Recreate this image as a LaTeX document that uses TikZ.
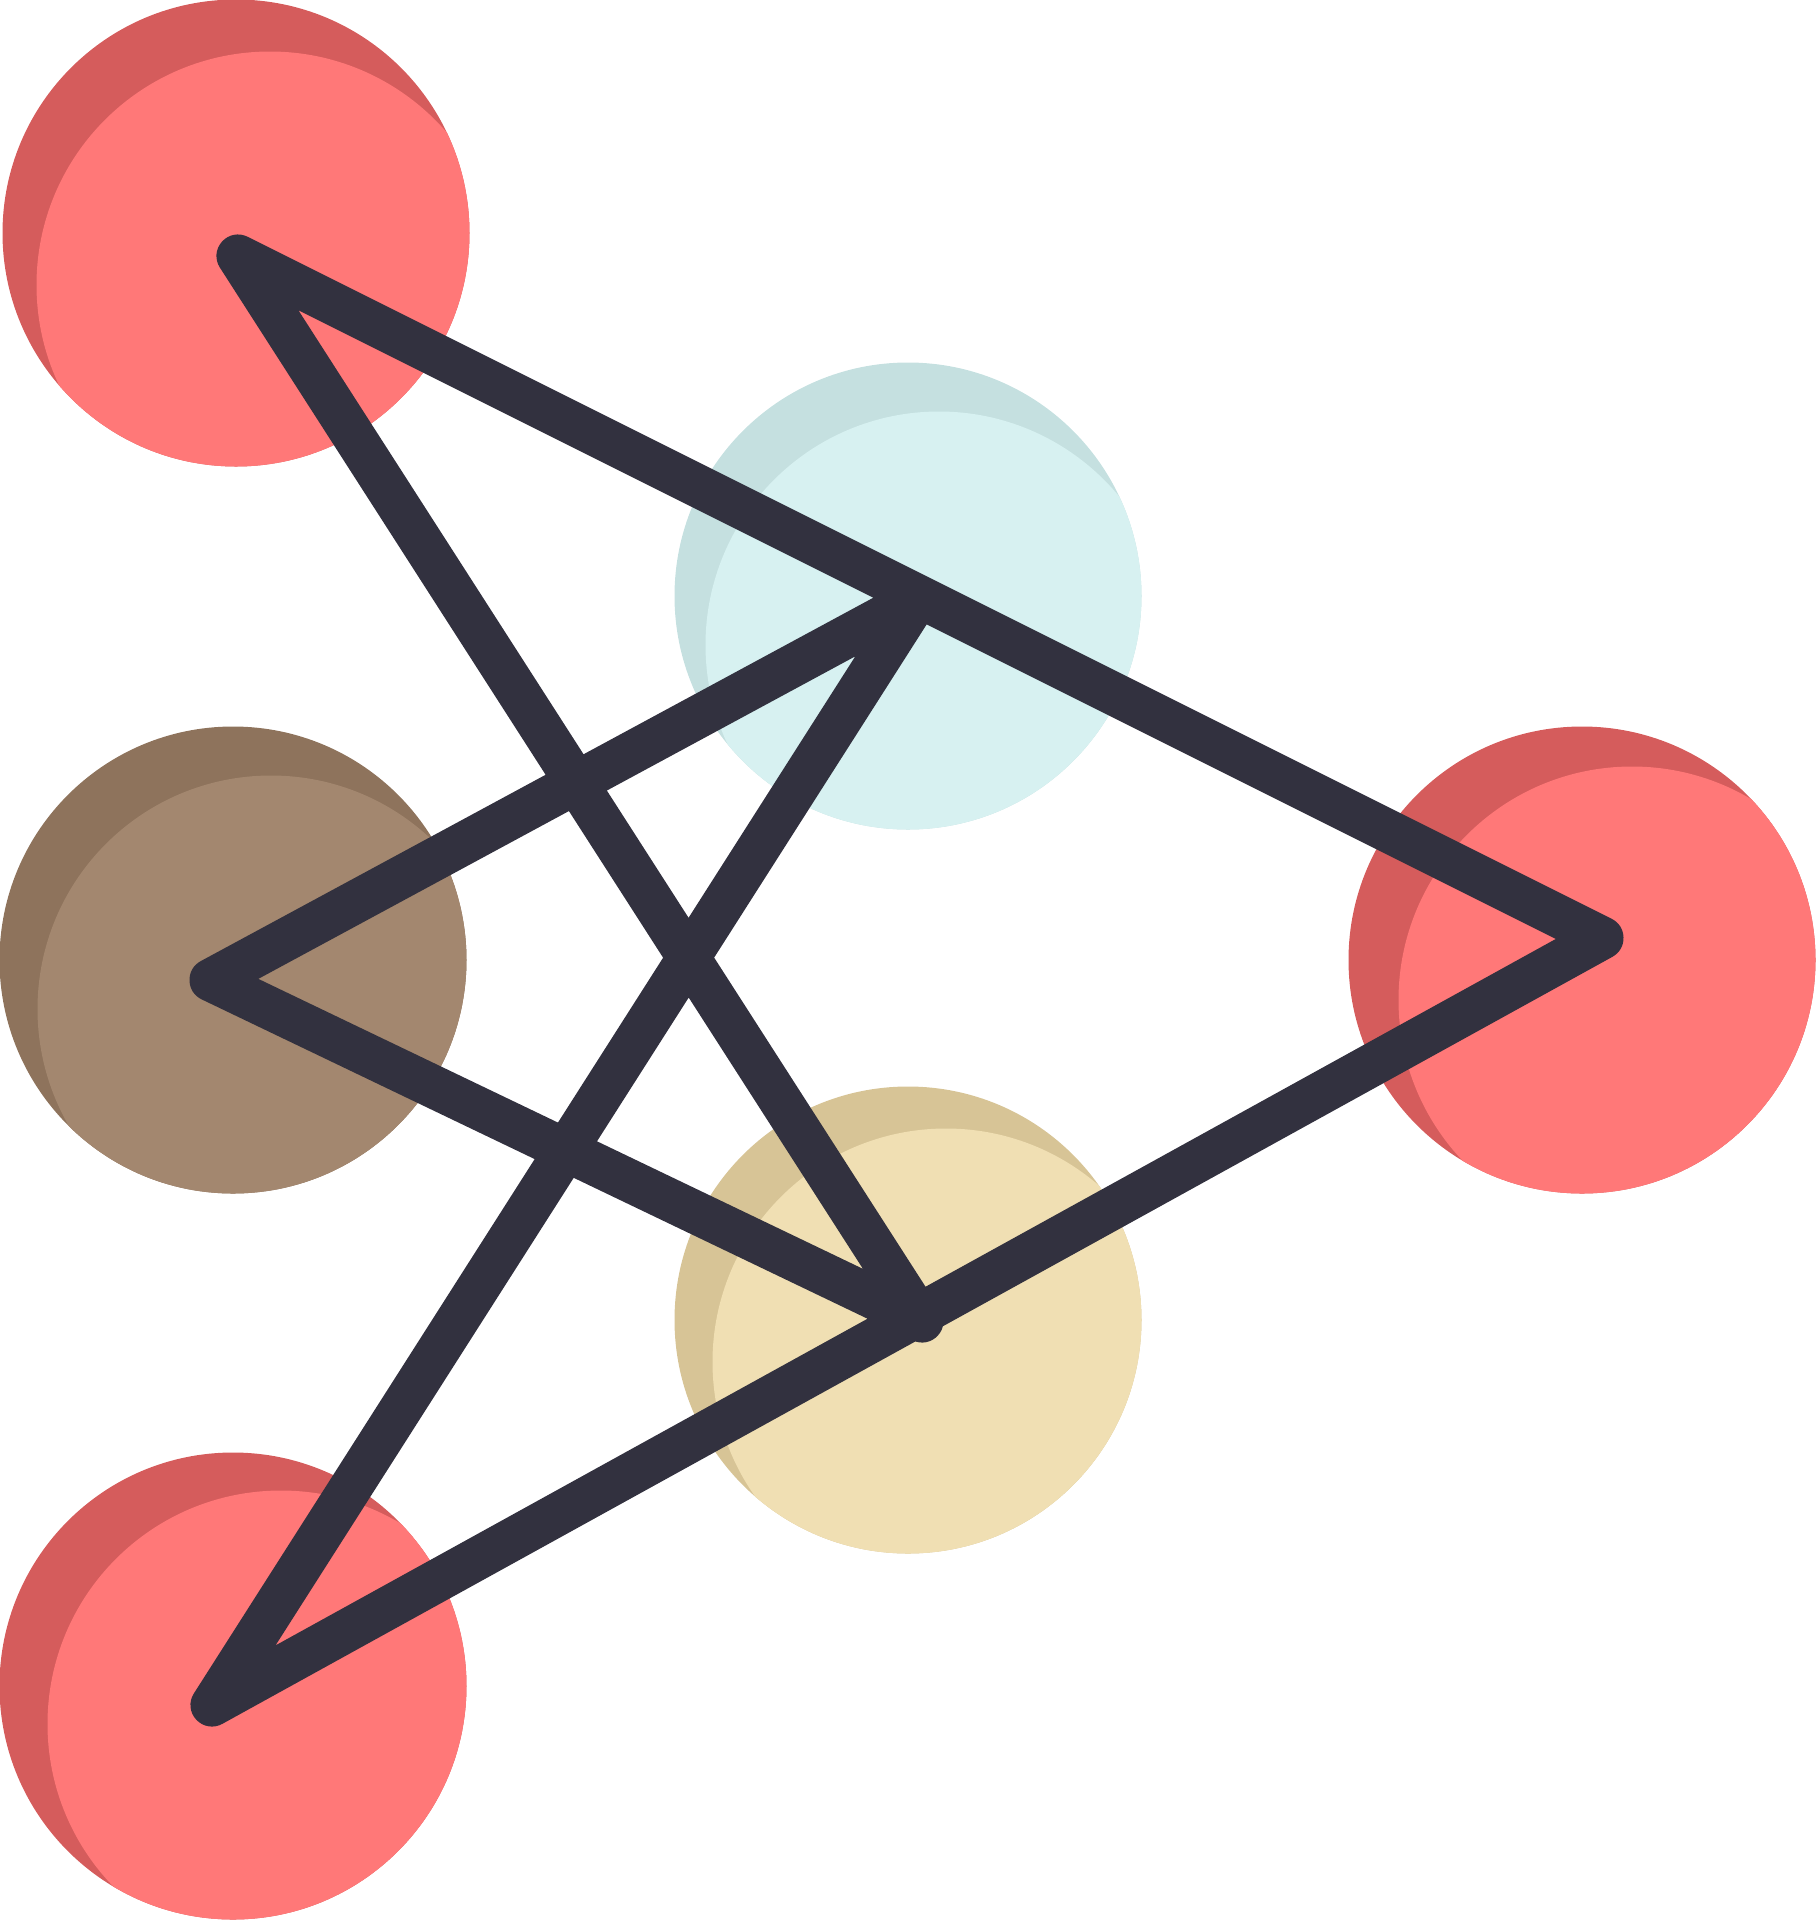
\documentclass[tikz,border=0pt]{standalone}

\definecolor{redface}{HTML}{FF7878}
\definecolor{redshade}{HTML}{D55C5C}
\definecolor{blueface}{HTML}{D7F1F1}
\definecolor{blueshade}{HTML}{C5E0E0}
\definecolor{brownface}{HTML}{A3876F}
\definecolor{brownshade}{HTML}{8E735C}
\definecolor{sandface}{HTML}{F0DFB3}
\definecolor{sandshade}{HTML}{D7C496}
\definecolor{wire}{HTML}{32313F}

\begin{document}
\begin{tikzpicture}[x=0.1mm,y=-0.1mm,
						ballrad/.store in=\ballrad,ballrad=23.35mm,
						net/.style={
						draw=wire,line width=4.3mm,line join=round,line cap=round}]

		\useasboundingbox (0,0) rectangle (1816,1920);

		% balls: x / y / shade / face / offset of the face
		\foreach \cx/\cy/\shade/\face/\ox/\oy in {
			236/233/redshade/redface/34/52,
			908/596/blueshade/blueface/31/49,
			233/960/brownshade/brownface/38/49,
			1582/960/redshade/redface/50/40,
			908/1320/sandshade/sandface/38/42,
			233/1686/redshade/redface/48/38}
		{
			\begin{scope}
				\fill[\shade] (\cx,\cy) circle (\ballrad);
				\clip (\cx,\cy) circle (\ballrad);
				\fill[\face] (\cx+\ox,\cy+\oy) circle (\ballrad);
			\end{scope}
		}

		\coordinate (top)   at (238,256);
		\coordinate (right) at (1602,938);
		\coordinate (bot)   at (212,1705);
		\coordinate (mid1)  at (918,598);
		\coordinate (left)  at (211,980);
		\coordinate (mid2)  at (922,1321);

		\draw[net] (top) -- (right) -- (bot) -- (mid1) -- (left) -- (mid2) -- cycle;

	\end{tikzpicture}
\end{document}
